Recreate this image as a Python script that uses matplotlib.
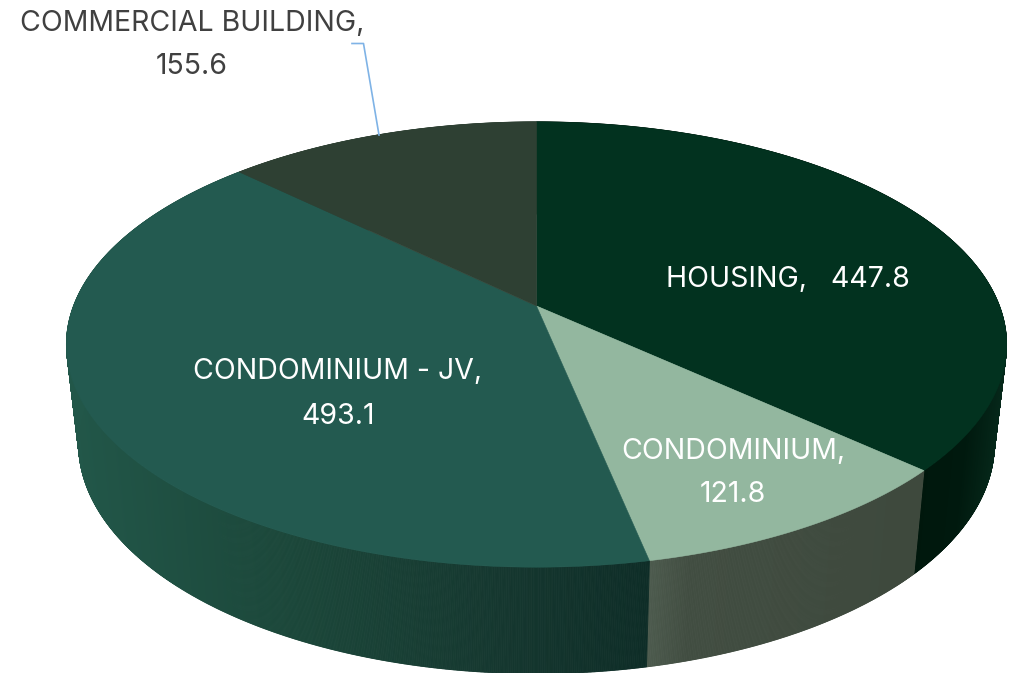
import numpy as np
import matplotlib
matplotlib.use("Agg")
import matplotlib.pyplot as plt
from matplotlib.colors import to_rgb
from matplotlib.collections import PolyCollection

# chart values, clockwise from 12 o'clock
categories = ["HOUSING", "CONDOMINIUM", "CONDOMINIUM - JV", "COMMERCIAL BUILDING"]
values = [447.8, 121.8, 493.1, 155.6]
top_colors = ["#02321F", "#93B79F", "#235A50", "#2E4033"]

# wall shading stops: screen x -> colour, one list per slice
wall_stops = [
    [(915, "#00170C"), (965, "#00190E"), (1007, "#06291B")],
    [(648, "#4D5B4E"), (690, "#414D41"), (915, "#3E493D")],
    [(66, "#225749"), (300, "#1B4639"), (500, "#15372F"), (648, "#0E2D27")],
    [(240, "#2E4033"), (536, "#2E4033")],
]

plt.rcParams["font.family"] = ["Inter", "DejaVu Sans"]

# the disc is a circle seen in perspective
apex_x = 536.5
top_y, bottom_y = 306, 404
k = 0.173
top_a, top_b = 463, 216
bottom_a, bottom_b = 451, 223


def project(theta, y0, a, b):
    x = np.sin(theta)
    y = -np.cos(theta)
    d = 1 - k * y
    return apex_x + a * x / d, y0 + b * y / d


fig, ax = plt.subplots(figsize=(10.25, 6.73), dpi=100)
fig.subplots_adjust(0, 0, 1, 1)
ax.set_xlim(0, 1025)
ax.set_ylim(673, 0)
ax.axis("off")

edges = np.concatenate([[0], np.cumsum(values)]) / np.sum(values) * 2 * np.pi

# side wall first, tops go over it
for i in range(len(values)):
    th = np.linspace(edges[i], edges[i + 1], int(400 * (edges[i + 1] - edges[i])) + 2)
    tx, ty = project(th, top_y, top_a, top_b)
    bx, by = project(th, bottom_y, bottom_a, bottom_b)
    stop_x = [s[0] for s in wall_stops[i]]
    stop_c = np.array([to_rgb(s[1]) for s in wall_stops[i]])
    quads = []
    cols = []
    for j in range(len(th) - 1):
        quads.append([(tx[j], ty[j]), (tx[j + 1], ty[j + 1]), (bx[j + 1], by[j + 1]), (bx[j], by[j])])
        mid = (tx[j] + tx[j + 1]) / 2
        cols.append([np.interp(mid, stop_x, stop_c[:, c]) for c in range(3)])
    ax.add_collection(PolyCollection(quads, facecolors=cols, edgecolors=cols, linewidths=0.6))

for i in range(len(values)):
    th = np.linspace(edges[i], edges[i + 1], 300)
    rx, ry = project(th, top_y, top_a, top_b)
    ax.fill(np.r_[apex_x, rx], np.r_[top_y, ry], color=top_colors[i], lw=0.4)

# data labels
fs = 20.5
ax.text(788, 280, f"{categories[0]},   {values[0]}", color="white", fontsize=fs, ha="center", va="center")
ax.text(733, 451, f"{categories[1]},", color="white", fontsize=fs, ha="center", va="center")
ax.text(733, 494, f"{values[1]}", color="white", fontsize=fs, ha="center", va="center")
ax.text(338, 371, f"{categories[2]},", color="white", fontsize=fs, ha="center", va="center")
ax.text(338, 416, f"{values[2]}", color="white", fontsize=fs, ha="center", va="center")
ax.text(192, 23, f"{categories[3]},", color="#404040", fontsize=fs, ha="center", va="center")
ax.text(192, 66, f"{values[3]}", color="#404040", fontsize=fs, ha="center", va="center")

# leader line for the outside label
ax.plot([352, 363.5, 379], [43.5, 43.5, 135], color="#7FB3E6", lw=1.2)

fig.savefig("out.png", dpi=100)
